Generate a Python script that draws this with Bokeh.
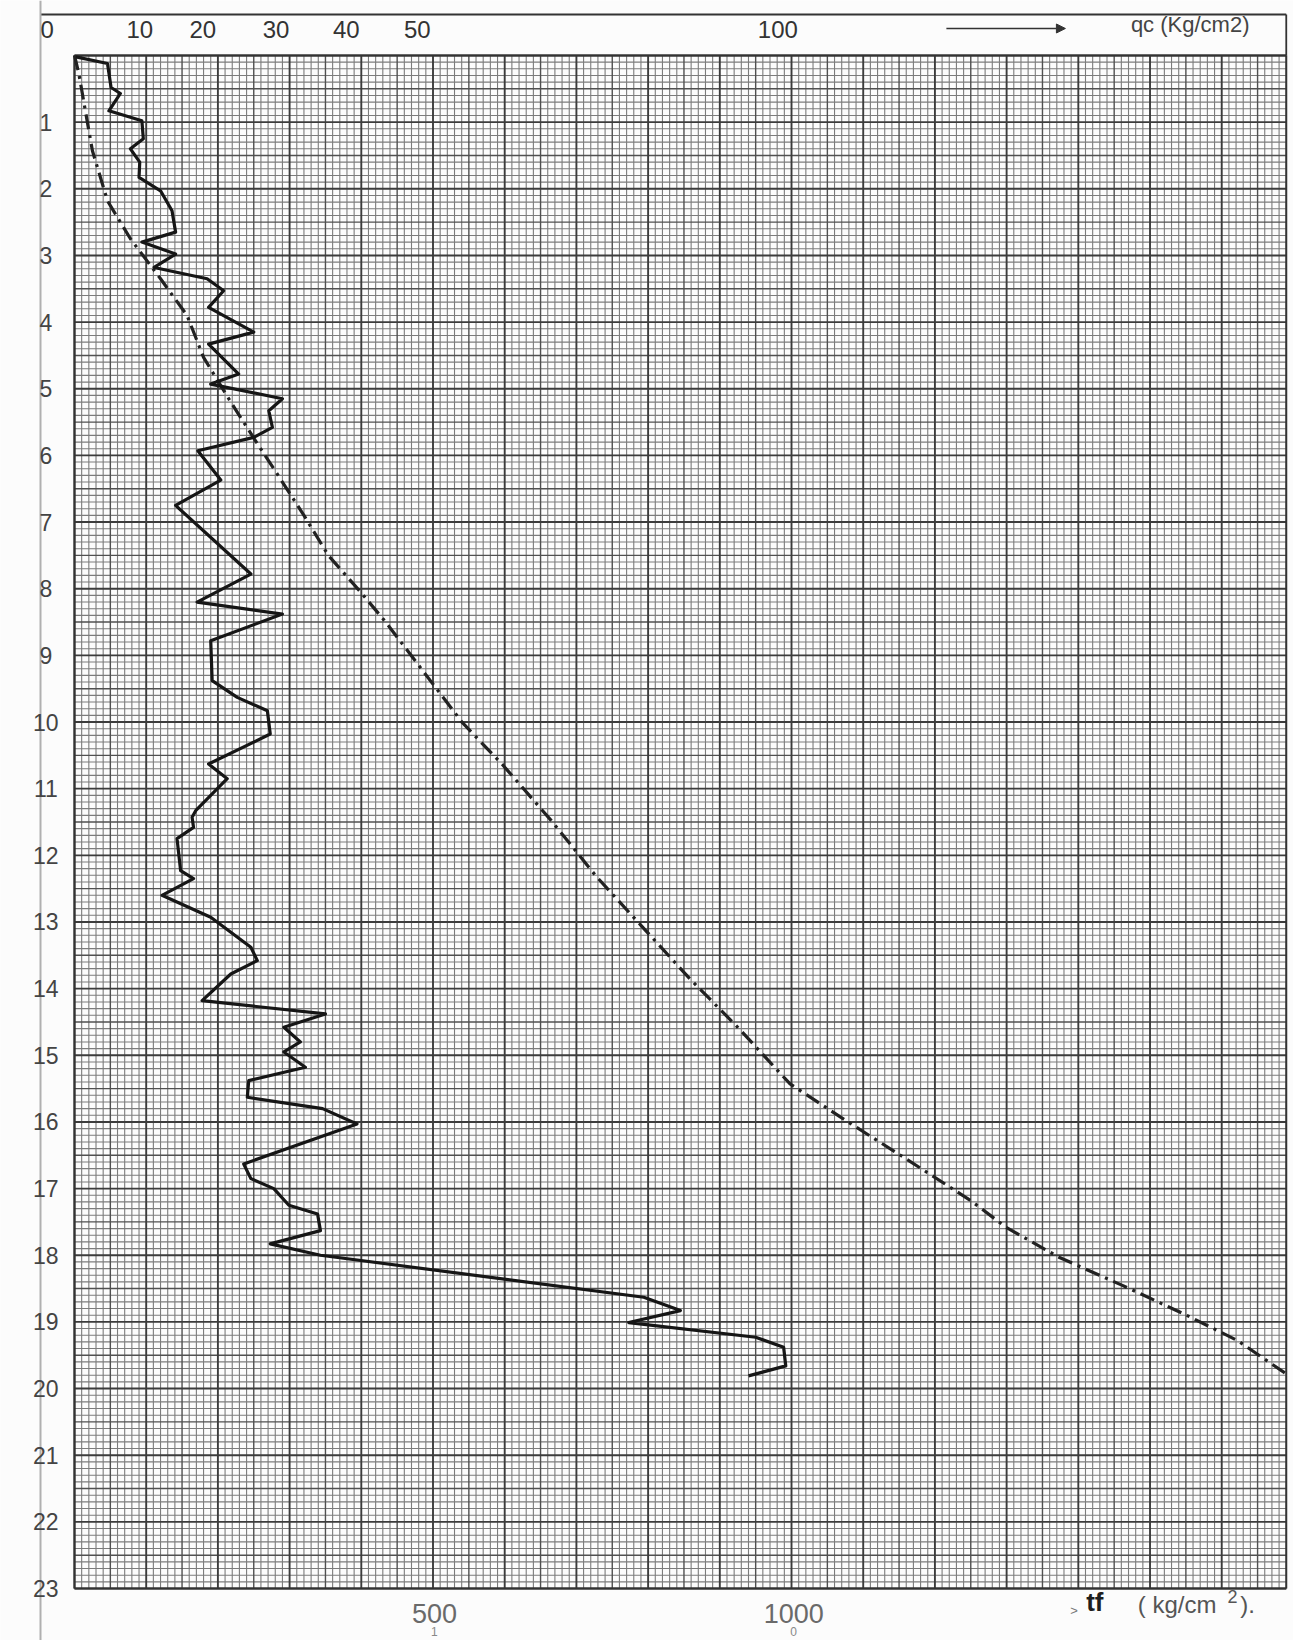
import numpy as np
from bokeh.plotting import figure
from bokeh.models import Range1d, Arrow, NormalHead
from bokeh.embed import file_html
from bokeh.resources import INLINE
from bokeh.core.properties import value

# ---------------- data ----------------
# cone resistance qc (kg/cm2) versus depth (m)  -- solid line, top scale
QC_DEPTH = [0.02, 0.12, 0.48, 0.57, 0.83, 0.98, 1.25, 1.40, 1.60, 1.83, 2.03, 2.33,
            2.65, 2.80, 2.98, 3.18, 3.35, 3.53, 3.78, 4.15, 4.33, 4.78, 4.93, 5.15,
            5.33, 5.58, 5.73, 5.93, 6.37, 6.75, 7.78, 8.20, 8.38, 8.78, 9.38, 9.63,
            9.83, 10.18, 10.63, 10.85, 11.33, 11.43, 11.58, 11.75, 12.23, 12.35, 12.60,
            12.93, 13.38, 13.58, 13.78, 14.18, 14.38, 14.58, 14.80, 14.95, 15.18, 15.38,
            15.63, 15.80, 16.03, 16.63, 16.85, 17.00, 17.25, 17.38, 17.63, 17.83, 18.00,
            18.63, 18.83, 19.01, 19.23, 19.38, 19.66, 19.81]
QC_VALUE = [0.2, 4.6, 5.1, 6.4, 4.8, 9.4, 9.6, 7.8, 9.1, 9.0, 12.0, 13.6,
            14.1, 9.4, 14.1, 11.1, 18.5, 20.8, 18.7, 25.0, 18.7, 22.9, 19.0, 29.0,
            27.1, 27.6, 25.0, 17.2, 20.4, 14.1, 24.6, 17.1, 29.0, 19.0, 19.2, 22.7,
            26.9, 27.3, 18.7, 21.3, 16.9, 16.4, 16.6, 14.3, 14.8, 16.6, 12.2,
            19.0, 24.6, 25.5, 21.8, 17.8, 35.0, 29.2, 31.5, 29.2, 32.2, 24.3,
            24.1, 34.6, 39.4, 23.6, 24.6, 27.8, 29.9, 33.9, 34.3, 27.3, 34.3,
            79.4, 84.5, 77.3, 95.0, 98.9, 99.2, 94.0]

# total friction tf (kg/cm2) versus depth (m)  -- dash-dot line, bottom scale
TF_DEPTH = [0.0, 0.27, 1.43, 2.18, 2.75, 3.35, 3.90, 4.53, 5.20, 5.84, 6.30, 6.90,
            7.50, 8.05, 8.50, 10.01, 10.64, 11.48, 12.32, 13.05, 13.85, 14.58, 15.43,
            16.05, 16.50, 17.18, 17.58, 18.03, 18.46, 18.90, 19.28, 19.78]
TF_VALUE = [0, 6, 25, 46, 78, 120, 157, 180, 218, 256, 284, 320,
            354, 399, 434, 541, 597, 665, 728, 790, 858, 925, 998,
            1086, 1152, 1250, 1299, 1373, 1463, 1551, 1622, 1690]

DEPTH_TICKS = list(range(1, 24))
QC_TICK_LABELS = ["0", "10", "20", "30", "40", "50", "100"]
QC_TICK_POS = [-3.8, 9.1, 17.9, 28.1, 37.9, 47.8, 98.1]   # where they are printed (qc units)
TF_TICK_LABELS = ["500", "1000"]
TF_TICK_POS = [502, 1003]

# ---------------- sheet geometry (data units: tf on x, depth on y) ----------------
W, H = 1293, 1640
X0, X1 = -103.2, 1700.1
Y_TOP, Y_BOT = -0.825, 23.78
GRID_TF_MAX = 1690
GRID_D_MAX = 23
LEFT_EDGE = -47.4
BOX_TOP = -0.615
FONT = value("Liberation Sans")

p = figure(width=W, height=H, x_range=Range1d(X0, X1), y_range=Range1d(Y_BOT, Y_TOP),
           x_axis_type=None, y_axis_type=None, output_backend="svg",
           toolbar_location=None, min_border=0)
p.extra_x_ranges = {"qc": Range1d(X0 / 10.0, X1 / 10.0)}
p.outline_line_color = None
p.grid.visible = False
p.background_fill_color = "#fcfcfc"
p.border_fill_color = "#ffffff"

# ---------------- millimetre paper ----------------
xs = np.arange(0, GRID_TF_MAX + 1, 10)
ys = np.round(np.arange(0, GRID_D_MAX + 0.001, 0.1), 2)

def cls_x(v):
    if v % 100 == 0:
        return 2
    if v % 50 == 0:
        return 1
    return 0

def cls_y(v):
    k = int(round(v * 10))
    if k % 10 == 0:
        return 2
    if k % 5 == 0:
        return 1
    return 0

styles = {0: ("#7c7c7c", 1.1), 1: ("#505050", 1.4), 2: ("#3c3c3c", 1.9)}
for level in (0, 1, 2):
    col, lw = styles[level]
    vx = [v for v in xs if cls_x(v) == level]
    hy = [v for v in ys if cls_y(v) == level]
    p.segment(x0=vx, y0=[0] * len(vx), x1=vx, y1=[GRID_D_MAX] * len(vx),
              line_color=col, line_width=lw)
    p.segment(x0=[0] * len(hy), y0=hy, x1=[GRID_TF_MAX] * len(hy), y1=hy,
              line_color=col, line_width=lw)

# sheet border
p.segment(x0=[0, GRID_TF_MAX, 0, 0], y0=[0, 0, 0, GRID_D_MAX],
          x1=[0, GRID_TF_MAX, GRID_TF_MAX, GRID_TF_MAX], y1=[GRID_D_MAX, GRID_D_MAX, 0, GRID_D_MAX],
          line_color="#333333", line_width=2)
# header box and paper edge
p.segment(x0=[LEFT_EDGE, GRID_TF_MAX], y0=[BOX_TOP, BOX_TOP],
          x1=[GRID_TF_MAX, GRID_TF_MAX], y1=[BOX_TOP, 0],
          line_color="#333333", line_width=1.8)
p.segment(x0=[LEFT_EDGE], y0=[Y_TOP], x1=[LEFT_EDGE], y1=[Y_BOT],
          line_color="#b0b0b0", line_width=2)

# ---------------- curves ----------------
p.line(x=TF_VALUE, y=TF_DEPTH, line_color="#222222", line_width=3.2,
       line_dash="15 6 3 6")
p.line(x=QC_VALUE, y=QC_DEPTH, x_range_name="qc", line_color="#161616",
       line_width=3.2, line_join="round")

# ---------------- texts ----------------
p.text(x=QC_TICK_POS, y=[-0.39] * len(QC_TICK_POS), text=QC_TICK_LABELS, x_range_name="qc",
       text_font=FONT, text_font_size="24px", text_color="#333333",
       text_align="center", text_baseline="middle")
p.text(x=[-40.0] * len(DEPTH_TICKS), y=DEPTH_TICKS, text=[str(d) for d in DEPTH_TICKS],
       text_font=FONT, text_font_size="23px", text_color="#444444",
       text_align="center", text_baseline="middle")
p.text(x=TF_TICK_POS, y=[23.38] * len(TF_TICK_POS), text=TF_TICK_LABELS,
       text_font=FONT, text_font_size="27px", text_color="#6a6a6a",
       text_align="center", text_baseline="middle")
p.text(x=TF_TICK_POS, y=[23.64] * len(TF_TICK_POS), text=["1", "0"],
       text_font=FONT, text_font_size="12px", text_color="#888888",
       text_align="center", text_baseline="middle")

p.add_layout(Arrow(end=NormalHead(size=9, fill_color="#333333", line_color="#333333"),
                   x_start=1216, y_start=-0.405, x_end=1382, y_end=-0.405,
                   line_color="#333333", line_width=1.6))
p.text(x=[1556], y=[-0.465], text=["qc (Kg/cm2)"], text_font=FONT,
       text_font_size="22px", text_color="#444444", text_align="center",
       text_baseline="middle")

p.text(x=[1423], y=[23.2], text=["tf"], text_font=FONT, text_font_size="26px",
       text_font_style="bold", text_color="#1e1e1e", text_align="center",
       text_baseline="middle")
p.text(x=[1394], y=[23.33], text=[">"], text_font=FONT, text_font_size="13px",
       text_color="#777777", text_align="center", text_baseline="middle")
p.text(x=[1483], y=[23.24], text=["(  kg/cm"], text_font=FONT, text_font_size="24px",
       text_color="#555555", text_align="left", text_baseline="middle")
p.text(x=[1608], y=[23.12], text=["2"], text_font=FONT, text_font_size="18px",
       text_color="#555555", text_align="left", text_baseline="middle")
p.text(x=[1626], y=[23.24], text=[" )."], text_font=FONT, text_font_size="24px",
       text_color="#555555", text_align="left", text_baseline="middle")

open("out.html", "w").write(file_html(p, INLINE))
